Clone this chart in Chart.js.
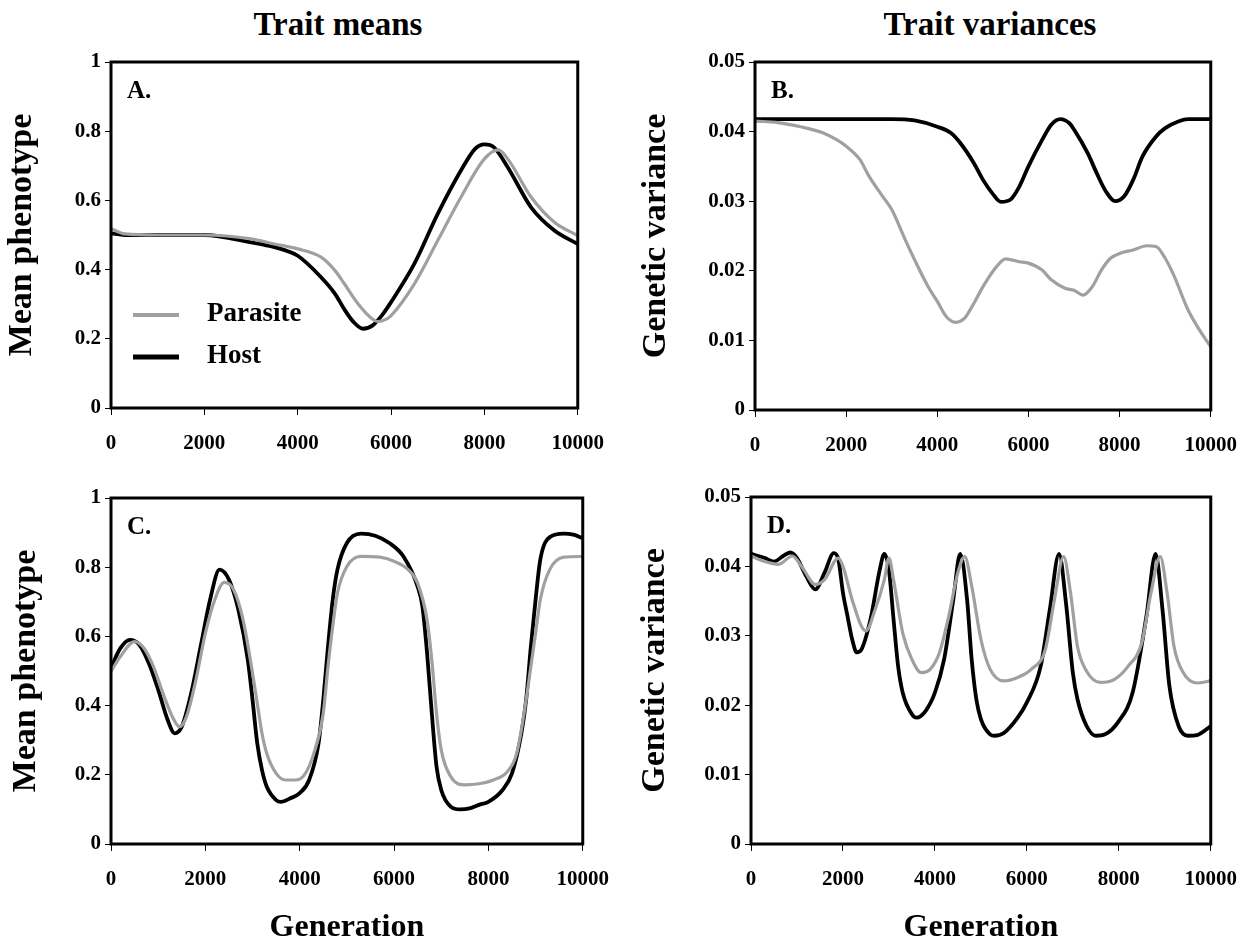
<!DOCTYPE html>
<html>
<head>
<meta charset="utf-8">
<script src="https://cdn.jsdelivr.net/npm/chart.js@4.4.0/dist/chart.umd.min.js"></script>
<style>
  body { margin:0; background:#fff; width:1253px; height:944px; position:relative; overflow:hidden; font-family:'Liberation Serif','Times New Roman',serif; }
  .col { position:absolute; top:4px; font-weight:bold; font-size:33px; line-height:40px; text-align:center; color:#000; }
  canvas { position:absolute; }
</style>
</head>
<body>
<div class="col" style="left:138px;width:400px">Trait means</div>
<div class="col" style="left:790px;width:400px">Trait variances</div>
<canvas id="cA"></canvas>
<canvas id="cB"></canvas>
<canvas id="cC"></canvas>
<canvas id="cD"></canvas>
<script>
// ---- data (generation, value) ----
// Panel A: trait means
const genA_host = [0,300,1000,2000,3000,3500,4000,4500,4800,5000,5200,5400,5600,5800,6000,6500,7000,7500,7800,8000,8200,8500,9000,9500,10000];
const hostA     = [0.505,0.50,0.50,0.50,0.479,0.465,0.44,0.378,0.33,0.285,0.248,0.229,0.238,0.267,0.306,0.417,0.561,0.687,0.749,0.762,0.754,0.696,0.58,0.513,0.474];
const genA_par  = [0,300,1000,2000,3000,3500,4000,4500,4800,5000,5300,5600,5700,5900,6000,6500,7000,7500,8000,8300,8500,9000,9500,10000];
const parA      = [0.518,0.503,0.50,0.50,0.489,0.474,0.46,0.436,0.397,0.359,0.30,0.257,0.25,0.257,0.267,0.359,0.484,0.61,0.72,0.746,0.72,0.61,0.537,0.498];

// Panel B: trait variances
const genB_host = [0,1000,2000,3000,3500,4000,4300,4500,4800,5000,5200,5400,5600,5800,6000,6300,6500,6700,6900,7000,7300,7500,7700,7900,8100,8300,8500,8800,9000,9300,9500,10000];
const hostB     = [0.0418,0.0418,0.0418,0.0418,0.0416,0.0407,0.0398,0.0384,0.0355,0.0331,0.0312,0.0299,0.0302,0.0321,0.035,0.0388,0.041,0.0418,0.0412,0.0403,0.0369,0.034,0.0314,0.030,0.0307,0.0331,0.0364,0.0393,0.0405,0.0415,0.0418,0.0418];
const genB_par  = [0,500,1000,1500,1800,2000,2300,2500,2800,3000,3300,3500,3800,4000,4200,4400,4600,4800,5000,5300,5500,5800,6000,6300,6500,6800,7000,7200,7400,7600,7800,8000,8300,8600,8800,9000,9200,9500,9800,10000];
const parB      = [0.0415,0.0413,0.0407,0.0398,0.0388,0.0379,0.036,0.0336,0.0307,0.0288,0.0244,0.0216,0.0177,0.0156,0.0134,0.0126,0.0132,0.0153,0.0177,0.0206,0.0217,0.0213,0.0211,0.0201,0.0187,0.0175,0.0172,0.0165,0.0177,0.0201,0.0218,0.0225,0.023,0.0236,0.0235,0.0218,0.0192,0.0144,0.011,0.0091];

// Panel C: trait means
const genC_host = [0,200,400,600,800,1000,1200,1350,1500,1700,1900,2100,2300,2500,2700,2900,3000,3100,3200,3300,3500,3600,3800,4000,4200,4400,4500,4600,4700,4800,5000,5300,5600,5900,6200,6500,6600,6700,6800,6900,7000,7200,7400,7600,7800,8000,8300,8500,8700,8800,8900,9000,9100,9300,9600,9800,10000];
const hostC     = [0.51,0.566,0.59,0.576,0.523,0.446,0.359,0.32,0.339,0.436,0.571,0.706,0.793,0.764,0.677,0.532,0.417,0.291,0.214,0.166,0.127,0.122,0.132,0.147,0.185,0.291,0.417,0.571,0.706,0.793,0.87,0.897,0.891,0.87,0.831,0.744,0.687,0.552,0.378,0.224,0.156,0.108,0.10,0.103,0.113,0.122,0.156,0.204,0.32,0.417,0.571,0.706,0.822,0.887,0.897,0.894,0.884];
const genC_par  = [0,200,500,700,900,1100,1300,1450,1600,1800,2000,2200,2400,2600,2800,3000,3100,3200,3300,3500,3700,3900,4100,4300,4500,4600,4700,4800,5000,5300,5700,6000,6300,6500,6700,6800,6900,7000,7200,7500,7800,8100,8400,8600,8800,8900,9000,9100,9300,9600,10000];
const parC      = [0.499,0.542,0.585,0.566,0.513,0.436,0.368,0.339,0.368,0.474,0.609,0.706,0.756,0.735,0.648,0.494,0.407,0.32,0.262,0.204,0.185,0.185,0.20,0.262,0.378,0.513,0.629,0.725,0.802,0.831,0.829,0.817,0.793,0.754,0.648,0.532,0.378,0.272,0.195,0.171,0.174,0.185,0.209,0.262,0.417,0.513,0.609,0.706,0.793,0.829,0.831];

// Panel D: trait variances
const genD_host = [0,300,500,700,850,1000,1200,1400,1600,1800,1900,2000,2100,2200,2300,2400,2600,2800,2900,3000,3100,3200,3300,3500,3600,3800,4000,4200,4400,4550,4700,4800,4900,5000,5200,5300,5500,5800,6000,6300,6500,6700,6850,7000,7100,7300,7500,7700,8000,8300,8600,8800,8950,9100,9300,9500,9700,10000];
const hostD     = [0.0418,0.0412,0.0407,0.0415,0.042,0.0412,0.0386,0.0367,0.0391,0.0419,0.041,0.0362,0.0328,0.0295,0.0276,0.028,0.0324,0.0395,0.0418,0.0395,0.0324,0.0256,0.0218,0.0187,0.0182,0.0192,0.0218,0.0266,0.0352,0.0418,0.0352,0.0266,0.0209,0.018,0.0158,0.0156,0.016,0.0182,0.0204,0.0256,0.0338,0.0418,0.0348,0.0247,0.0209,0.017,0.0156,0.0158,0.0177,0.0218,0.0328,0.0418,0.0338,0.0228,0.017,0.0156,0.0157,0.017];
const genD_par  = [0,300,600,900,1100,1400,1600,1900,2000,2200,2400,2500,2700,2900,3000,3100,3300,3500,3700,3900,4100,4300,4500,4650,4800,5000,5200,5500,5800,6100,6400,6600,6800,6950,7100,7300,7600,7900,8200,8500,8700,8900,9050,9200,9400,9700,10000];
const parD      = [0.0415,0.0407,0.0403,0.0415,0.040,0.0374,0.0381,0.0412,0.040,0.0352,0.0314,0.0307,0.0338,0.0381,0.0412,0.0381,0.0304,0.0266,0.0247,0.0252,0.0276,0.0328,0.0391,0.0414,0.0372,0.0295,0.0252,0.0235,0.024,0.0252,0.028,0.0352,0.0414,0.0362,0.0285,0.0249,0.0233,0.0237,0.0256,0.029,0.0362,0.0414,0.0362,0.0285,0.0247,0.0232,0.0235];

const xTicks = [0,2000,4000,6000,8000,10000];
const seriesNames = ['Parasite','Host'];

const SERIF = "'Liberation Serif','Times New Roman',serif";
const PARASITE = '#a0a0a0';
const HOST = '#000000';

function pts(xs, ys){ return xs.map((x,i)=>({x, y:ys[i]})); }

// frame round the plot area + panel letter + optional legend
const frame = {
  id:'frame',
  afterDatasetsDraw(chart, args, o){
    const {ctx, chartArea:a} = chart;
    ctx.save();
    ctx.strokeStyle = '#000'; ctx.lineWidth = 3;
    ctx.strokeRect(a.left, a.top, a.right-a.left, a.bottom-a.top);
    ctx.fillStyle = '#000';
    ctx.font = 'bold 25px ' + SERIF;
    ctx.textBaseline = 'middle';
    ctx.fillText(o.letter, a.left+16, a.top+30);
    if(o.legend){
      const rows = [[PARASITE,4,253],[HOST,5,295]];
      ctx.font = 'bold 27px ' + SERIF;
      rows.forEach(([c,w,dy],i)=>{
        ctx.strokeStyle = c; ctx.lineWidth = w;
        ctx.beginPath(); ctx.moveTo(a.left+22, a.top+dy); ctx.lineTo(a.left+68, a.top+dy); ctx.stroke();
        ctx.fillText(seriesNames[i], a.left+96, a.top+dy-1);
      });
    }
    ctx.restore();
  }
};

function panel(id, box, plot, yMax, yStep, yTitle, yPad, xTitle, letter, legend, host, par){
  const cv = document.getElementById(id);
  cv.width = box.w; cv.height = box.h;
  cv.style.left = box.x+'px'; cv.style.top = box.y+'px';
  const tickFont = {family:SERIF, size:21, weight:'bold'};
  return new Chart(cv, {
    type:'line',
    data:{ datasets:[
      { label:seriesNames[0], data:par, borderColor:PARASITE, borderWidth:3.2, pointRadius:0, tension:0.4, cubicInterpolationMode:'monotone' },
      { label:seriesNames[1], data:host, borderColor:HOST, borderWidth:3.8, pointRadius:0, tension:0.4, cubicInterpolationMode:'monotone' }
    ]},
    options:{
      responsive:false, animation:false, devicePixelRatio:1,
      layout:{ padding:{ top:plot.t-box.y, right:box.x+box.w-plot.r, left:0, bottom:0 } },
      plugins:{ legend:{display:false}, tooltip:{enabled:false}, frame:{letter, legend} },
      scales:{
        x:{ type:'linear', min:0, max:10000,
            afterBuildTicks: s => { s.ticks = xTicks.map(v=>({value:v})); },
            afterFit: s => { s.height = box.y+box.h-plot.b; },
            grid:{ drawOnChartArea:false, drawTicks:true, tickLength:7, color:'#000', lineWidth:1 },
            border:{ display:false },
            ticks:{ color:'#000', font:tickFont, padding:16, maxRotation:0, callback:v=>String(v) },
            title:{ display:!!xTitle, text:xTitle||'', color:'#000', font:{family:SERIF, size:32, weight:'bold', lineHeight:1}, padding:{top:0,bottom:0} } },
        y:{ min:0, max:yMax,
            ticks:{ stepSize:yStep, color:'#000', font:tickFont, padding:4,
                    callback:v=>String(Math.round(v*1000)/1000) },
            afterFit: s => { s.width = plot.l-box.x; },
            grid:{ drawOnChartArea:false, drawTicks:true, tickLength:6, color:'#000', lineWidth:1 },
            border:{ display:false },
            title:{ display:true, text:yTitle, color:'#000', font:{family:SERIF, size:34, weight:'bold'}, padding:{top:yPad,bottom:0} } }
      }
    },
    plugins:[frame]
  });
}

panel('cA', {x:0,y:40,w:620,h:420},   {l:111,t:62,r:583,b:408},   1,0.2,   'Mean phenotype',  2, null,         'A.', true,  pts(genA_host,hostA), pts(genA_par,parA));
panel('cB', {x:630,y:40,w:623,h:420}, {l:755,t:62,r:1213,b:410},  0.05,0.01,'Genetic variance',6, null,         'B.', false, pts(genB_host,hostB), pts(genB_par,parB));
panel('cC', {x:0,y:470,w:625,h:474},  {l:111,t:498,r:593,b:844},  1,0.2,   'Mean phenotype',  6, 'Generation', 'C.', false, pts(genC_host,hostC), pts(genC_par,parC));
panel('cD', {x:630,y:470,w:623,h:474},{l:751,t:497,r:1221,b:844}, 0.05,0.01,'Genetic variance',5, 'Generation', 'D.', false, pts(genD_host,hostD), pts(genD_par,parD));
</script>
</body>
</html>
